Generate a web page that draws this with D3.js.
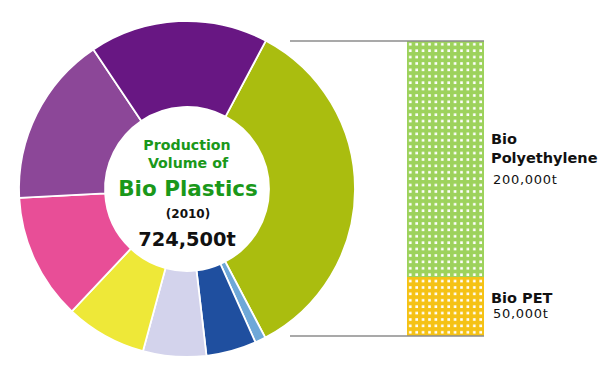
<!DOCTYPE html>
<html>
<head>
<meta charset="utf-8">
<script src="https://cdn.jsdelivr.net/npm/d3@7"></script>
<style>
  body { margin: 0; background: #fff; }
  svg { display: block; font-family: "DejaVu Sans", Verdana, sans-serif; }
</style>
</head>
<body>
<svg id="chart" width="600" height="384"></svg>
<script>
// donut slices, clockwise from the big green one (tonnes)
const sliceNames = ["Bio PE + Bio PET", "other 1", "other 2", "other 3", "other 4", "other 5", "other 6", "other 7"];
const sliceValues = [250000, 7500, 35000, 44000, 56500, 88000, 119000, 124500];
const sliceColors = ["#aabd0f", "#6ea8d8", "#1f4f9f", "#d3d3ec", "#eee838", "#e84e97", "#8c4798", "#681783"];

// breakdown of the green slice
const barNames = ["Bio PET", "Bio Polyethylene"];
const barValues = [50000, 200000];
const barLabels = ["50,000t", "200,000t"];
const barColors = ["#f5c215", "#9dd25c"];

const totalLabel = "724,500t";

const svg = d3.select("#chart");
const cx = 187, cy = 189;
const outerR = 168, innerR = 82;

// dotted fills for the bar
const defs = svg.append("defs");
barColors.forEach(function(c, i) {
    const p = defs.append("pattern")
        .attr("id", "dots" + i)
        .attr("patternUnits", "userSpaceOnUse")
        .attr("x", 407).attr("y", 41)
        .attr("width", 6.4).attr("height", 6.4);
    p.append("rect").attr("width", 6.4).attr("height", 6.4).attr("fill", c);
    p.append("rect").attr("x", 2).attr("y", 2).attr("width", 2.6).attr("height", 2.6).attr("fill", "#fff");
});

const start = 28 * Math.PI / 180;
const pie = d3.pie().sort(null).startAngle(start).endAngle(start + 2 * Math.PI);
const arc = d3.arc().innerRadius(innerR).outerRadius(outerR);

svg.append("g")
    .attr("transform", "translate(" + cx + "," + cy + ")")
    .selectAll("path").data(pie(sliceValues)).enter().append("path")
    .attr("d", arc)
    .attr("fill", function(d, i) { return sliceColors[i]; })
    .attr("stroke", "#fff")
    .attr("stroke-width", 1.8)
    .append("title").text(function(d, i) { return sliceNames[i]; });

// centre text
const centre = svg.append("g").attr("text-anchor", "middle").attr("font-weight", "bold");
centre.append("text").attr("x", cx).attr("y", 150).attr("font-size", 14.2).attr("fill", "#1a981a").text("Production");
centre.append("text").attr("x", cx + 1).attr("y", 168).attr("font-size", 14.2).attr("fill", "#1a981a").text("Volume of");
centre.append("text").attr("x", cx + 1).attr("y", 196).attr("font-size", 21.5).attr("fill", "#1a981a").text("Bio Plastics");
centre.append("text").attr("x", cx + 1).attr("y", 218).attr("font-size", 12).attr("fill", "#111").text("(2010)");
centre.append("text").attr("x", cx).attr("y", 246).attr("font-size", 19.4).attr("fill", "#111").text(totalLabel);

// stacked bar for the green slice
const total = d3.sum(barValues);
const y = d3.scaleLinear().domain([0, total]).range([336, 41]);
const x = d3.scaleBand().domain(["green"]).range([407, 484]).padding(0);
const stack = d3.stack().keys(barNames)([Object.fromEntries(barNames.map(function(n, i) { return [n, barValues[i]]; }))]);

svg.append("g").selectAll("rect").data(stack).enter().append("rect")
    .attr("x", x("green"))
    .attr("width", x.bandwidth())
    .attr("y", function(d) { return y(d[0][1]); })
    .attr("height", function(d) { return y(d[0][0]) - y(d[0][1]); })
    .attr("fill", function(d, i) { return "url(#dots" + i + ")"; });

// connector lines
svg.append("g").selectAll("line").data([0, total]).enter().append("line")
    .attr("x1", 290).attr("x2", 484)
    .attr("y1", function(d) { return y(d); })
    .attr("y2", function(d) { return y(d); })
    .attr("stroke", "#8c8c8c")
    .attr("stroke-width", 1.5);

// bar labels
const lab = svg.append("g").attr("fill", "#111");
lab.append("text").attr("x", 491).attr("y", 144).attr("font-size", 14.5).attr("font-weight", "bold").text("Bio");
lab.append("text").attr("x", 491).attr("y", 163).attr("font-size", 14.5).attr("font-weight", "bold").text("Polyethylene");
lab.append("text").attr("x", 493).attr("y", 184).attr("font-size", 13).attr("letter-spacing", 0.7).text(barLabels[1]);
lab.append("text").attr("x", 491).attr("y", 303).attr("font-size", 14.5).attr("font-weight", "bold").text(barNames[0]);
lab.append("text").attr("x", 493).attr("y", 318).attr("font-size", 13).attr("letter-spacing", 0.7).text(barLabels[0]);
</script>
</body>
</html>
